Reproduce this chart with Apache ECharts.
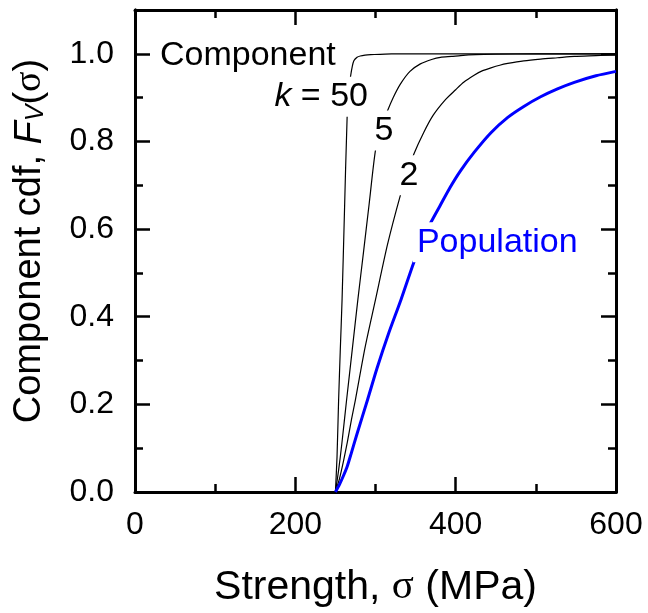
<!DOCTYPE html>
<html><head><meta charset="utf-8">
<script src="https://cdn.jsdelivr.net/npm/echarts@6/dist/echarts.min.js"></script>
<style>html,body{margin:0;padding:0;background:#fff}#c{width:648px;height:613px}</style>
</head><body><div id="c"></div>
<script>
// ---- data ----
const popStrength = [250,255,260,265,270,277,290,302,316,332,348,360,369,381,393,406,423,444,465,485,506,527,548,575,600];
const popCdf      = [0,0.017,0.037,0.06,0.09,0.133,0.21,0.283,0.36,0.44,0.525,0.58,0.615,0.655,0.695,0.733,0.775,0.82,0.855,0.88,0.902,0.92,0.935,0.95,0.96];

const k2Strength = [250,255,260,265,270,275,287,300,315,331,340,348,360,372,387,400,410,423,433,444,455,465,485,506,527,548,575,600];
const k2Cdf      = [0,0.03,0.07,0.115,0.165,0.211,0.33,0.439,0.565,0.677,0.73,0.772,0.82,0.86,0.895,0.918,0.935,0.951,0.961,0.968,0.974,0.978,0.984,0.988,0.991,0.994,0.996,0.998];

const k5Strength = [250,254,258,264,271,278,285,292,300,307,315,322,331,343,356,370,381,395,406,425,450,500,600];
const k5Cdf      = [0,0.05,0.11,0.211,0.325,0.439,0.547,0.656,0.78,0.83,0.87,0.9,0.931,0.96,0.977,0.987,0.992,0.994,0.996,0.998,0.999,1.0,1.0];

const k50Strength = [250,252,254,256,258.3,261,264.6,267,269,271,273,277,281,287,294,320,600];
const k50Cdf      = [0,0.08,0.211,0.32,0.439,0.62,0.855,0.92,0.95,0.971,0.984,0.992,0.995,0.997,0.998,1.0,1.0];

const xTicks = {min:0, max:600, step:200};
const yTicks = {min:0, max:1.1, step:0.2, minorStep:0.1};

const annotations = [
  {text:'Component', at:[26.2,0.995], align:'left', color:'#000'},
  {text:'{i|k} = 50', at:[295.6,0.902], align:'right', color:'#000'},
  {text:'5', at:[310.6,0.825], align:'center', color:'#000'},
  {text:'2', at:[341.8,0.723], align:'center', color:'#000'},
  {text:'Population', at:[346.7,0.57], align:'left', color:'#0000ff'}
];

// ---- chart ----
const FONT = '"Liberation Sans", Arial, Helvetica, sans-serif';
const SERIF = '"Liberation Serif", "Times New Roman", serif';
const zip = (a,b) => a.map((v,i)=>[v,b[i]]);
const lineW = 3;
function axisBase(extra){
  return Object.assign({
    type:'value',
    axisLine:{show:true,onZero:false,lineStyle:{color:'#000',width:lineW}},
    axisTick:{show:true,inside:true,length:15,lineStyle:{color:'#000',width:2.5}},
    splitLine:{show:false},
    minorSplitLine:{show:false},
    axisLabel:{show:false}
  }, extra);
}
const chart = echarts.init(document.getElementById('c'), null, {renderer:'canvas'});
const option = {
  animation:false,
  backgroundColor:'#fff',
  grid:{left:135, right:32, top:10, bottom:120, containLabel:false},
  xAxis:[
    axisBase({position:'bottom', min:xTicks.min, max:xTicks.max, interval:xTicks.step,
      minorTick:{show:true,splitNumber:2,length:8,lineStyle:{color:'#000',width:2.5}},
      axisLabel:{show:true,fontSize:32,color:'#000',fontFamily:FONT,margin:17},
      name:'Strength, {s|σ} (MPa)', nameLocation:'middle', nameGap:75,
      nameTextStyle:{fontSize:41,color:'#000',fontFamily:FONT,
        rich:{s:{fontSize:41,fontFamily:SERIF,color:'#000'}}}
    }),
    axisBase({position:'top', min:xTicks.min, max:xTicks.max, interval:xTicks.step,
      minorTick:{show:true,splitNumber:2,length:8,lineStyle:{color:'#000',width:2.5}}})
  ],
  yAxis:[
    axisBase({position:'left', min:yTicks.min, max:yTicks.max, interval:yTicks.step,
      axisLabel:{show:true,fontSize:32,color:'#000',fontFamily:FONT,margin:21,showMaxLabel:false,
        formatter:v=> (v>1.05? '' : v.toFixed(1))},
      name:'Component cdf, {i|F}{sub|V}({s|σ})', nameLocation:'middle', nameRotate:90, nameGap:86,
      nameTextStyle:{fontSize:38,color:'#000',fontFamily:FONT,padding:[0,0,0,20],
        rich:{i:{fontSize:38,fontStyle:'italic',fontFamily:FONT,color:'#000'},
              sub:{fontSize:25,fontStyle:'italic',fontFamily:FONT,color:'#000',verticalAlign:'bottom'},
              s:{fontSize:38,fontFamily:SERIF,color:'#000'}}}
    }),
    axisBase({position:'left', min:yTicks.min, max:yTicks.max, interval:yTicks.minorStep,
      axisTick:{show:true,inside:true,length:8,lineStyle:{color:'#000',width:2.5}}}),
    axisBase({position:'right', min:yTicks.min, max:yTicks.max, interval:yTicks.step}),
    axisBase({position:'right', min:yTicks.min, max:yTicks.max, interval:yTicks.minorStep,
      axisTick:{show:true,inside:true,length:8,lineStyle:{color:'#000',width:2.5}}})
  ],
  series:[
    {name:'k50', data:zip(k50Strength,k50Cdf), color:'#000', width:1.2},
    {name:'k5', data:zip(k5Strength,k5Cdf), color:'#000', width:1.2},
    {name:'k2', data:zip(k2Strength,k2Cdf), color:'#000', width:1.2},
    {name:'Population', data:zip(popStrength,popCdf), color:'#0000ff', width:3}
  ].map(s=>({type:'line', name:s.name, data:s.data, xAxisIndex:0, yAxisIndex:0,
     showSymbol:false, symbol:'none', smooth:0.25, z:3,
     lineStyle:{color:s.color,width:s.width}, itemStyle:{color:s.color}}))
};
chart.setOption(option);

const graphics = annotations.map(a=>{
  const p = chart.convertToPixel({xAxisIndex:0,yAxisIndex:0}, a.at);
  return {type:'text', x:p[0], y:p[1], z:100, zlevel:0,
    style:{text:a.text, fill:a.color, font:'34px '+FONT, align:a.align, verticalAlign:'middle',
      backgroundColor:'#fff', padding:[3,4],
      rich:{i:{fontStyle:'italic',fontSize:34,fontFamily:FONT,fill:a.color}}}};
});
chart.setOption({graphic:graphics});
</script></body></html>
